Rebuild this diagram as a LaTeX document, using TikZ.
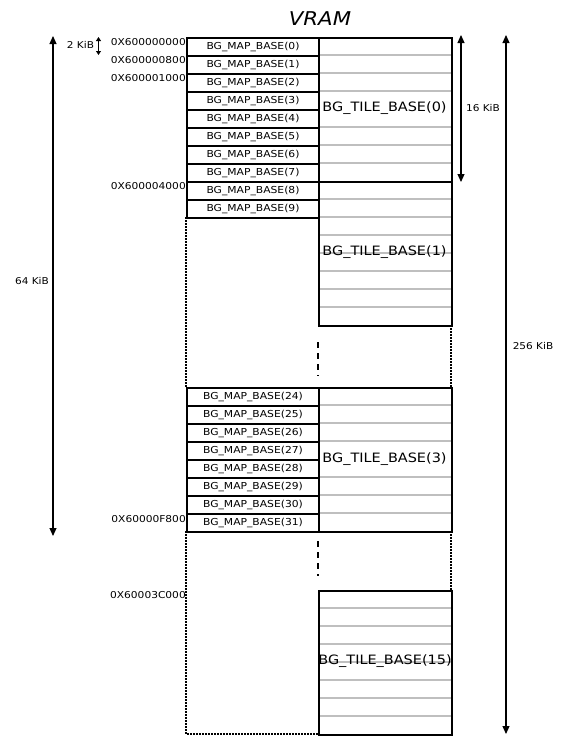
\documentclass[tikz,border=0pt]{standalone}
\usepackage{fontspec}
\setmainfont{DejaVu Sans}[FakeStretch=1.12]
\usetikzlibrary{arrows.meta}
\begin{document}
\begin{tikzpicture}[x=1pt,y=-1pt,
  mapbox/.style={draw,line width=2pt,minimum width=132pt,minimum height=18pt,inner sep=0pt,anchor=north west,font=\fontsize{9.6}{11}\selectfont},
  tilebox/.style={draw,line width=2pt,minimum width=133pt,minimum height=144pt,inner sep=0pt,anchor=north west},
  tilelabel/.style={inner sep=0pt,font=\fontsize{12.9}{14}\selectfont},
  addr/.style={anchor=east,inner sep=0pt,font=\fontsize{9.5}{11}\selectfont},
  dimlabel/.style={inner sep=0pt,font=\fontsize{9.4}{11}\selectfont},
  grayline/.style={draw=black!25,line width=1.4pt},
  dotline/.style={line width=1.2pt,dash pattern=on 1.5pt off 1.5pt},
  gapline/.style={line width=1.5pt,dash pattern=on 6pt off 5pt},
  dimarrow/.style={line width=1.1pt,{Triangle[length=8pt,width=7pt]}-{Triangle[length=8pt,width=7pt]}},
  smallarrow/.style={line width=1pt,{Triangle[length=4pt,width=5pt]}-{Triangle[length=4pt,width=5pt]}}
]
\useasboundingbox (0,0) rectangle (560,742);

% title
\node[inner sep=0pt,font=\fontsize{19}{20}\selectfont\itshape] (title) at (320,19) {VRAM};

% dotted outlines
\draw[dotline] (186,217) -- (186,387);
\draw[dotline] (451,325) -- (451,387);
\draw[dotline] (186,531) -- (186,734) -- (318,734);
\draw[dotline] (451,531) -- (451,590);

% gap dashes
\draw[gapline] (318,342) -- (318,376);
\draw[gapline] (318,541) -- (318,576);

% tile 0
\foreach \k in {1,2,3,5,6,7} \draw[grayline] (318,37+18*\k) -- (451,37+18*\k);
\node[tilebox] (t0) at (318,37) {};
\node[tilelabel] (t0l) at (384.5,108) {BG\_TILE\_BASE(0)};
% tile 1
\foreach \k in {1,2,3,4,5,6,7} \draw[grayline] (318,181+18*\k) -- (451,181+18*\k);
\node[tilebox] (t1) at (318,181) {};
\node[tilelabel] (t1l) at (384.5,252) {BG\_TILE\_BASE(1)};
% tile 3
\foreach \k in {1,2,3,5,6,7} \draw[grayline] (318,387+18*\k) -- (451,387+18*\k);
\node[tilebox] (t3) at (318,387) {};
\node[tilelabel] (t3l) at (384.5,459) {BG\_TILE\_BASE(3)};
% tile 15
\foreach \k in {1,2,3,4,5,6,7} \draw[grayline] (318,590+18*\k) -- (451,590+18*\k);
\node[tilebox] (t15) at (318,590) {};
\node[tilelabel] (t15l) at (385,661) {BG\_TILE\_BASE(15)};

% map boxes
\foreach \i in {0,...,9} \node[mapbox] (m\i) at (186,37+18*\i) {BG\_MAP\_BASE(\i)};
\foreach \i in {24,...,31} \node[mapbox] (m\i) at (186,387+18*\i-432) {BG\_MAP\_BASE(\i)};

% addresses
\node[addr] (a0) at (186,42) {0X600000000};
\node[addr] (a1) at (186,60) {0X600000800};
\node[addr] (a2) at (186,78) {0X600001000};
\node[addr] (a3) at (186,186) {0X600004000};
\node[addr] (a4) at (186,519) {0X60000F800};
\node[addr] (a5) at (186,595) {0X60003C000};

% dimension arrows
\coordinate (d64a) at (53,36);
\coordinate (d64b) at (53,536);
\draw[dimarrow] (d64a) -- (d64b);
\node[dimlabel] (l64) at (32,281) {64 KiB};

\coordinate (d2a) at (98.5,37);
\coordinate (d2b) at (98.5,55);
\draw[smallarrow] (d2a) -- (d2b);
\node[dimlabel] (l2) at (80.5,45) {2 KiB};

\coordinate (d16a) at (461,35);
\coordinate (d16b) at (461,182);
\draw[dimarrow] (d16a) -- (d16b);
\node[dimlabel] (l16) at (483,108) {16 KiB};

\coordinate (d256a) at (506,35);
\coordinate (d256b) at (506,734);
\draw[dimarrow] (d256a) -- (d256b);
\node[dimlabel] (l256) at (533,346) {256 KiB};
\end{tikzpicture}
\end{document}
